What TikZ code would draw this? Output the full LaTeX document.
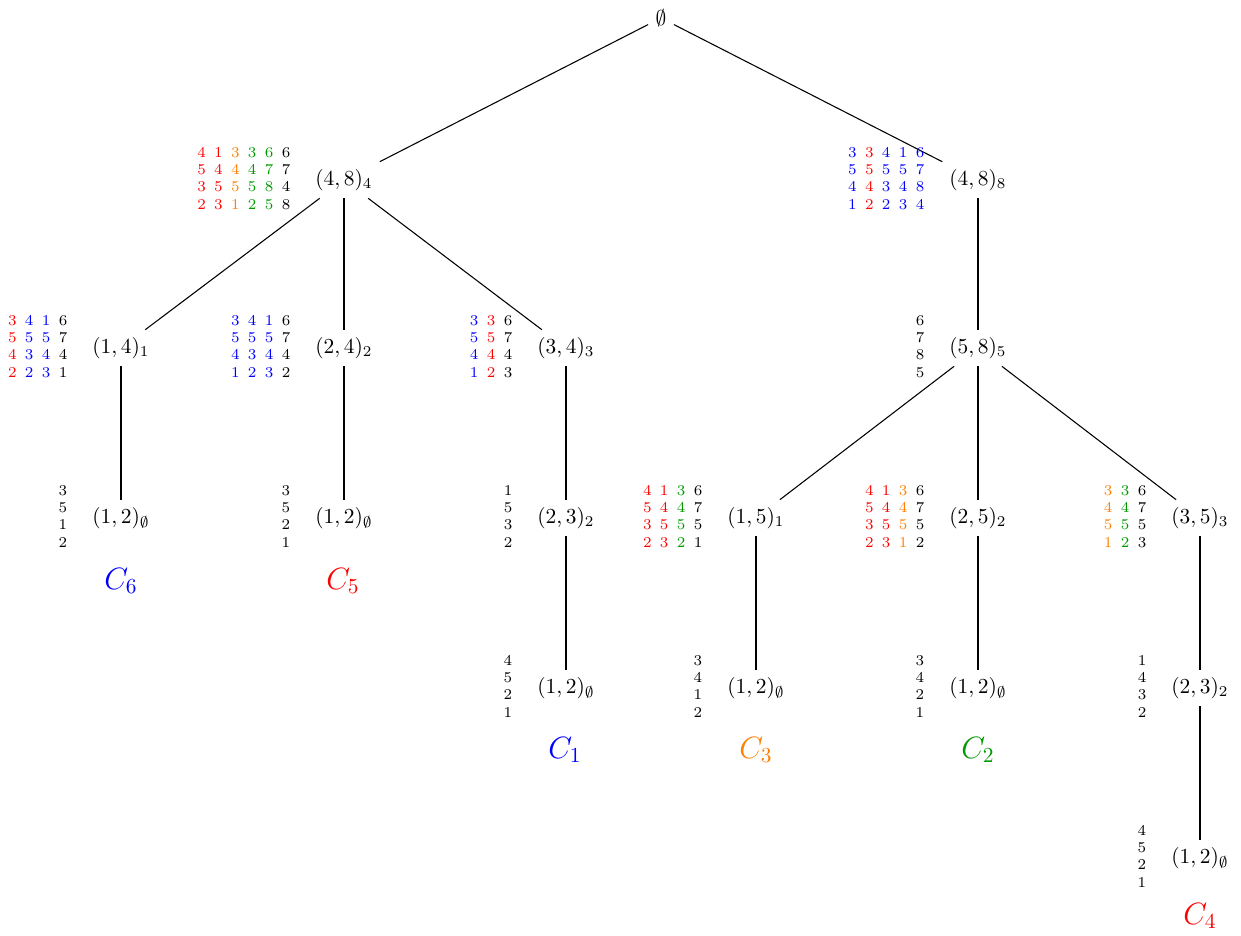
\documentclass[tikz,border=0pt]{standalone}
\usepackage{array}
\definecolor{mygreen}{rgb}{0,0.6,0}
\definecolor{myorange}{rgb}{1,0.5,0}
\newcolumntype{R}{>{\color{red}}c}
\newcolumntype{B}{>{\color{blue}}c}
\newcolumntype{O}{>{\color{myorange}}c}
\newcolumntype{G}{>{\color{mygreen}}c}
\newcolumntype{K}{c}
\setlength{\tabcolsep}{1.95pt}
\tikzset{
  tn/.style={},
  matl/.style={anchor=east,inner sep=0pt,font=\scriptsize,xshift=-8pt},
  clab/.style={font=\Large},
  edge/.style={draw,line width=0.5pt}
}
\begin{document}
\begin{tikzpicture}[x=0.467pt,y=-0.467pt]
\useasboundingbox (0,0) rectangle (1241,936);
% tree nodes
\node[tn] (root) at (661,18) {$\emptyset$};
\node[tn] (a) at (344,180) {$(4,8)_4$};
\node[tn] (b) at (978,180) {$(4,8)_8$};
\node[tn] (a1) at (121,348) {$(1,4)_1$};
\node[tn] (a2) at (344,348) {$(2,4)_2$};
\node[tn] (a3) at (566,348) {$(3,4)_3$};
\node[tn] (b1) at (978,348) {$(5,8)_5$};
\node[tn] (a1l) at (121,518) {$(1,2)_\emptyset$};
\node[tn] (a2l) at (344,518) {$(1,2)_\emptyset$};
\node[tn] (a3a) at (566,518) {$(2,3)_2$};
\node[tn] (a3l) at (566,688) {$(1,2)_\emptyset$};
\node[tn] (b1a) at (756,518) {$(1,5)_1$};
\node[tn] (b1b) at (978,518) {$(2,5)_2$};
\node[tn] (b1c) at (1200,518) {$(3,5)_3$};
\node[tn] (b1al) at (756,688) {$(1,2)_\emptyset$};
\node[tn] (b1bl) at (978,688) {$(1,2)_\emptyset$};
\node[tn] (b1ca) at (1200,688) {$(2,3)_2$};
\node[tn] (b1cl) at (1200,858) {$(1,2)_\emptyset$};
% edges
\draw[edge] (root) -- (a);
\draw[edge] (root) -- (b);
\draw[edge] (a) -- (a1);
\draw[edge] (a) -- (a2);
\draw[edge] (a) -- (a3);
\draw[edge] (b) -- (b1);
\draw[edge] (a1) -- (a1l);
\draw[edge] (a2) -- (a2l);
\draw[edge] (a3) -- (a3a);
\draw[edge] (a3a) -- (a3l);
\draw[edge] (b1) -- (b1a);
\draw[edge] (b1) -- (b1b);
\draw[edge] (b1) -- (b1c);
\draw[edge] (b1a) -- (b1al);
\draw[edge] (b1b) -- (b1bl);
\draw[edge] (b1c) -- (b1ca);
\draw[edge] (b1ca) -- (b1cl);
% matrices
\node[matl] (ma) at (a.west) {\begin{tabular}{@{}RROGGK@{}}4&1&3&3&6&6\\5&4&4&4&7&7\\3&5&5&5&8&4\\2&3&1&2&5&8\end{tabular}};
\node[matl] (mb) at (b.west) {\begin{tabular}{@{}BRBBB@{}}3&3&4&1&6\\5&5&5&5&7\\4&4&3&4&8\\1&2&2&3&4\end{tabular}};
\node[matl] (ma1) at (a1.west) {\begin{tabular}{@{}RBBK@{}}3&4&1&6\\5&5&5&7\\4&3&4&4\\2&2&3&1\end{tabular}};
\node[matl] (ma2) at (a2.west) {\begin{tabular}{@{}BBBK@{}}3&4&1&6\\5&5&5&7\\4&3&4&4\\1&2&3&2\end{tabular}};
\node[matl] (ma3) at (a3.west) {\begin{tabular}{@{}BRK@{}}3&3&6\\5&5&7\\4&4&4\\1&2&3\end{tabular}};
\node[matl] (mb1) at (b1.west) {\begin{tabular}{@{}K@{}}6\\7\\8\\5\end{tabular}};
\node[matl] (ma1l) at (a1l.west) {\begin{tabular}{@{}K@{}}3\\5\\1\\2\end{tabular}};
\node[matl] (ma2l) at (a2l.west) {\begin{tabular}{@{}K@{}}3\\5\\2\\1\end{tabular}};
\node[matl] (ma3a) at (a3a.west) {\begin{tabular}{@{}K@{}}1\\5\\3\\2\end{tabular}};
\node[matl] (ma3l) at (a3l.west) {\begin{tabular}{@{}K@{}}4\\5\\2\\1\end{tabular}};
\node[matl] (mb1a) at (b1a.west) {\begin{tabular}{@{}RRGK@{}}4&1&3&6\\5&4&4&7\\3&5&5&5\\2&3&2&1\end{tabular}};
\node[matl] (mb1b) at (b1b.west) {\begin{tabular}{@{}RROK@{}}4&1&3&6\\5&4&4&7\\3&5&5&5\\2&3&1&2\end{tabular}};
\node[matl] (mb1c) at (b1c.west) {\begin{tabular}{@{}OGK@{}}3&3&6\\4&4&7\\5&5&5\\1&2&3\end{tabular}};
\node[matl] (mb1al) at (b1al.west) {\begin{tabular}{@{}K@{}}3\\4\\1\\2\end{tabular}};
\node[matl] (mb1bl) at (b1bl.west) {\begin{tabular}{@{}K@{}}3\\4\\2\\1\end{tabular}};
\node[matl] (mb1ca) at (b1ca.west) {\begin{tabular}{@{}K@{}}1\\4\\3\\2\end{tabular}};
\node[matl] (mb1cl) at (b1cl.west) {\begin{tabular}{@{}K@{}}4\\5\\2\\1\end{tabular}};
% class labels
\node[clab,text=blue] (c6) at (121,581) {$C_6$};
\node[clab,text=red] (c5) at (343,581) {$C_5$};
\node[clab,text=blue] (c1) at (565,750) {$C_1$};
\node[clab,text=myorange] (c3) at (756,750) {$C_3$};
\node[clab,text=mygreen] (c2) at (978,750) {$C_2$};
\node[clab,text=red] (c4) at (1200,916) {$C_4$};
\end{tikzpicture}
\end{document}
